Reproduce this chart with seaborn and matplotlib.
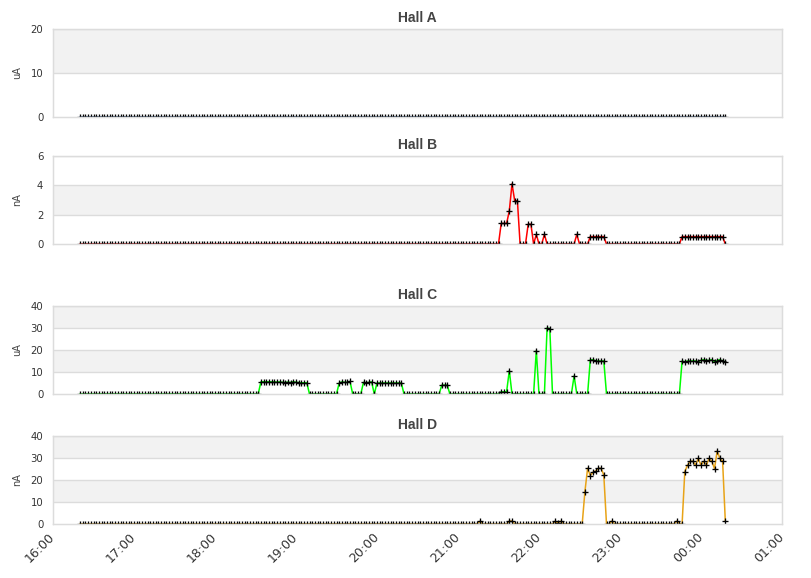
import pandas as pd
import numpy as np
import matplotlib
matplotlib.use("Agg")
import matplotlib.pyplot as plt
import matplotlib.dates as mdates
import seaborn as sns

# ---------------- data (2-minute samples starting 16:20) ----------------
start_time = "2024-01-01 16:20"
sample_minutes = 2

hall_a = [
    0,0,0,0,0,0,0,0,0,0,0,0,0,0,0,0,0,0,0,0,
    0,0,0,0,0,0,0,0,0,0,0,0,0,0,0,0,0,0,0,0,
    0,0,0,0,0,0,0,0,0,0,0,0,0,0,0,0,0,0,0,0,
    0,0,0,0,0,0,0,0,0,0,0,0,0,0,0,0,0,0,0,0,
    0,0,0,0,0,0,0,0,0,0,0,0,0,0,0,0,0,0,0,0,
    0,0,0,0,0,0,0,0,0,0,0,0,0,0,0,0,0,0,0,0,
    0,0,0,0,0,0,0,0,0,0,0,0,0,0,0,0,0,0,0,0,
    0,0,0,0,0,0,0,0,0,0,0,0,0,0,0,0,0,0,0,0,
    0,0,0,0,0,0,0,0,0,0,0,0,0,0,0,0,0,0,0,0,
    0,0,0,0,0,0,0,0,0,0,0,0,0,0,0,0,0,0,0,0,
    0,0,0,0,0,0,0,0,0,0,0,0,0,0,0,0,0,0,0,0,
    0,0,0,0,0,0,0,0,0,0,0,0,0,0,0,0,0,0,0,0,
]

hall_b = [
    0,0,0,0,0,0,0,0,0,0,0,0,0,0,0,0,0,0,0,0,
    0,0,0,0,0,0,0,0,0,0,0,0,0,0,0,0,0,0,0,0,
    0,0,0,0,0,0,0,0,0,0,0,0,0,0,0,0,0,0,0,0,
    0,0,0,0,0,0,0,0,0,0,0,0,0,0,0,0,0,0,0,0,
    0,0,0,0,0,0,0,0,0,0,0,0,0,0,0,0,0,0,0,0,
    0,0,0,0,0,0,0,0,0,0,0,0,0,0,0,0,0,0,0,0,
    0,0,0,0,0,0,0,0,0,0,0,0,0,0,0,0,0,0,0,0,
    0,0,0,0,0,0,0,0,0,0,0,0,0,0,0,0,1.4,1.4,1.4,2.25,
    4.1,2.95,2.95,0,0,0,1.35,1.35,0,0.65,0,0,0.65,0,0,0,0,0,0,0,
    0,0,0,0,0.65,0,0,0,0,0.5,0.5,0.5,0.5,0.5,0.5,0,0,0,0,0,
    0,0,0,0,0,0,0,0,0,0,0,0,0,0,0,0,0,0,0,0,
    0,0,0,0.5,0.5,0.5,0.5,0.5,0.5,0.5,0.5,0.5,0.5,0.5,0.5,0.5,0.5,0.5,0.5,0,
]

hall_c = [
    0,0,0,0,0,0,0,0,0,0,0,0,0,0,0,0,0,0,0,0,
    0,0,0,0,0,0,0,0,0,0,0,0,0,0,0,0,0,0,0,0,
    0,0,0,0,0,0,0,0,0,0,0,0,0,0,0,0,0,0,0,0,
    0,0,0,0,0,0,0,5.5,5.6,5.5,5.6,5.5,5.5,5.4,5.5,5.3,5.2,5.4,5.2,5.6,
    5.3,5.2,5.1,5.1,5.1,0,0,0,0,0,0,0,0,0,0,0,5.0,5.5,5.3,5.3,
    5.7,0,0,0,0,5.3,5.0,5.3,5.5,0,5.0,5.0,5.0,5.0,5.0,5.0,5.0,5.0,5.0,5.0,
    0,0,0,0,0,0,0,0,0,0,0,0,0,0,4.0,4.0,4.0,0,0,0,
    0,0,0,0,0,0,0,0,0,0,0,0,0,0,0,0,1.0,1.0,1.0,10.6,
    0,0,0,0,0,0,0,0,0,19.7,0,0,0,30.0,29.7,0,0,0,0,0,
    0,0,0,8.2,0,0,0,0,0,15.5,15.6,15.0,15.0,15.0,15.0,0,0,0,0,0,
    0,0,0,0,0,0,0,0,0,0,0,0,0,0,0,0,0,0,0,0,
    0,0,0,15.0,14.6,15.0,15.0,15.0,15.0,14.6,15.3,15.6,15.2,15.3,15.6,14.6,15.2,15.6,15.0,14.6,
]

hall_d = [
    0,0,0,0,0,0,0,0,0,0,0,0,0,0,0,0,0,0,0,0,
    0,0,0,0,0,0,0,0,0,0,0,0,0,0,0,0,0,0,0,0,
    0,0,0,0,0,0,0,0,0,0,0,0,0,0,0,0,0,0,0,0,
    0,0,0,0,0,0,0,0,0,0,0,0,0,0,0,0,0,0,0,0,
    0,0,0,0,0,0,0,0,0,0,0,0,0,0,0,0,0,0,0,0,
    0,0,0,0,0,0,0,0,0,0,0,0,0,0,0,0,0,0,0,0,
    0,0,0,0,0,0,0,0,0,0,0,0,0,0,0,0,0,0,0,0,
    0,0,0,0,0,0,0,0,1.2,0,0,0,0,0,0,0,0,0,0,1.3,
    1.3,0,0,0,0,0,0,0,0,0,0,0,0,0,0,0,1.2,0.5,1.2,0,
    0,0,0,0,0,0,0,14.7,25.3,22.0,23.5,24.1,25.3,25.3,22.3,0,0,1.3,0,0,
    0,0,0,0,0,0,0,0,0,0,0,0,0,0,0,0,0,0,0,0,
    0,1.3,0,0,23.8,26.7,28.5,28.5,26.7,29.8,26.7,28.5,26.7,29.8,28.5,25.2,33.2,29.8,28.5,1.4,
]

panel_titles = ["Hall A", "Hall B", "Hall C", "Hall D"]
panel_units = ["uA", "nA", "uA", "nA"]
panel_ticks = [[0, 10, 20], [0, 2, 4, 6], [0, 10, 20, 30, 40], [0, 10, 20, 30, 40]]
panel_colors = ["#4572A7", "#FF0000", "#00FF00", "#E8A317"]
series = [hall_a, hall_b, hall_c, hall_d]

x_start = "2024-01-01 16:00"
x_end = "2024-01-02 01:00"

# ---------------- figure ----------------
sns.set_theme(style="white")
plt.rcParams["font.family"] = ["DejaVu Sans"]

W, H = 811, 578
fig = plt.figure(figsize=(W / 100, H / 100), dpi=100)
fig.patch.set_facecolor("white")

# axes boxes in pixels: (left, top, right, bottom)
boxes = [(53, 29, 782, 117), (53, 156, 782, 244), (53, 306, 782, 394), (53, 436, 782, 524)]

times = pd.date_range(start_time, periods=len(hall_a), freq=f"{sample_minutes}min")
grid_col = "#dcdcdc"
band_col = "#f2f2f2"

for k, (vals, title, unit, ticks, col, box) in enumerate(
        zip(series, panel_titles, panel_units, panel_ticks, panel_colors, boxes)):
    l, t, r, b = box
    ax = fig.add_axes([l / W, (H - b) / H, (r - l) / W, (b - t) / H])
    ax.set_facecolor("white")
    # bands
    for j in range(len(ticks) - 1):
        if j % 2 == 1:
            ax.axhspan(ticks[j], ticks[j + 1], color=band_col, zorder=0, lw=0)
    for tv in ticks[1:]:
        ax.axhline(tv, color=grid_col, lw=1.0, zorder=0.5)

    df = pd.DataFrame({"time": times, "value": vals})
    sns.lineplot(data=df, x="time", y="value", ax=ax, color=col, lw=1.1,
                 zorder=2, errorbar=None, legend=False)
    sns.scatterplot(data=df, x="time", y="value", ax=ax, marker="+", s=13,
                    color="black", linewidth=0.95, zorder=3, legend=False)

    ax.set_ylim(ticks[0], ticks[-1])
    ax.set_yticks(ticks)
    ax.set_xlim(pd.Timestamp(x_start), pd.Timestamp(x_end))
    ax.xaxis.set_major_locator(mdates.HourLocator())
    ax.xaxis.set_major_formatter(mdates.DateFormatter("%H:%M"))

    for s in ax.spines.values():
        s.set_color(grid_col)
        s.set_linewidth(1.05)
        s.set_zorder(4)

    ax.tick_params(axis="y", length=0, pad=7, labelsize=7.3, labelcolor="#333333")
    ax.tick_params(axis="x", length=0, pad=8, labelsize=9, labelcolor="#333333")
    ax.set_xlabel("")
    ax.set_ylabel(unit, fontsize=7, color="#444444")
    ax.yaxis.set_label_coords(-(53 - 22) / (r - l), 0.5)
    ax.set_title(title, fontsize=10, fontweight="bold", color="#444444", pad=5,
                 family=["Liberation Sans", "DejaVu Sans"])
    ax.grid(False)

    if k < 3:
        ax.set_xticklabels([])
    else:
        for lab in ax.get_xticklabels():
            lab.set_rotation(45)
            lab.set_ha("right")
            lab.set_va("center")
            lab.set_rotation_mode("anchor")

fig.savefig("out.png", dpi=100, facecolor="white")
